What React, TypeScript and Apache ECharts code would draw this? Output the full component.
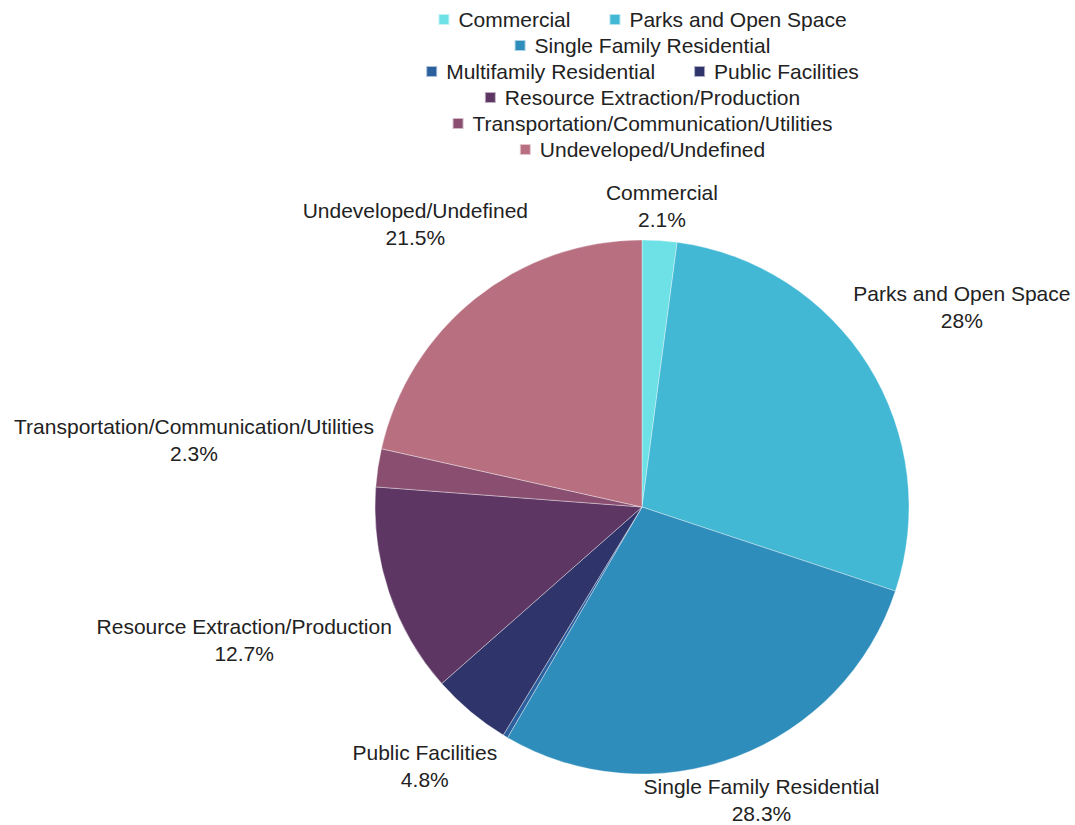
import React, { useEffect, useRef } from "react";
import * as echarts from "echarts";

const categories = [
  "Commercial",
  "Parks and Open Space",
  "Single Family Residential",
  "Multifamily Residential",
  "Public Facilities",
  "Resource Extraction/Production",
  "Transportation/Communication/Utilities",
  "Undeveloped/Undefined",
];
const values = [2.1, 28, 28.3, 0.3, 4.8, 12.7, 2.3, 21.5];
const colors = [
  "#6de1e6",
  "#42b8d5",
  "#2e8dbb",
  "#2c5f9e",
  "#2f356b",
  "#5d3663",
  "#8a4f70",
  "#b87081",
];
const legendRows = [[0, 1], [2], [3, 4], [5], [6], [7]];
const hiddenLabels = [3];

const W = 1075;
const H = 825;
const CX = 642;
const CY = 507;
const R = 267;
const FONT = "Liberation Sans, Arial, sans-serif";

export default function App() {
  const ref = useRef<HTMLDivElement>(null);
  useEffect(() => {
    document.body.style.margin = "0";
    if (!ref.current) return;
    const chart = echarts.init(ref.current, null, { renderer: "svg" });
    const total = values.reduce((a, b) => a + b, 0);
    const cum: number[] = [];
    let acc = 0;
    values.forEach((v) => {
      cum.push(acc);
      acc += v;
    });

    const legends = legendRows.map((row, r) => ({
      data: row.map((i) => categories[i]),
      top: 4 + r * 26,
      left: "center",
      orient: "horizontal",
      icon: "rect",
      itemWidth: 11,
      itemHeight: 11,
      itemGap: 38,
      selectedMode: false,
      textStyle: { color: "#222", fontSize: 21, fontFamily: FONT, padding: [0, 0, 0, 4] },
    }));

    chart.setOption({
      animation: false,
      backgroundColor: "#fff",
      legend: legends,
      series: [
        {
          type: "pie",
          center: [CX, CY],
          radius: R,
          startAngle: 90,
          clockwise: true,
          avoidLabelOverlap: false,
          itemStyle: { borderColor: "rgba(255,255,255,0.6)", borderWidth: 0.6 },
          label: {
            show: true,
            position: "outside",
            color: "#222",
            fontSize: 21,
            lineHeight: 27,
            fontFamily: FONT,
            formatter: (p: any) => `${p.name}\n${p.value}%`,
          },
          labelLine: { show: false },
          labelLayout: (p: any) => {
            const i = p.dataIndex;
            const mid = ((cum[i] + values[i] / 2) / total) * Math.PI * 2;
            const ux = Math.sin(mid);
            const uy = -Math.cos(mid);
            const w = p.labelRect.width;
            const h = p.labelRect.height;
            const ext = Math.abs(ux) * (w / 2) + Math.abs(uy) * (h / 2);
            const d = R + 4 + ext;
            const x = CX + ux * d;
            let y = CY + uy * d;
            y = Math.min(y, H - h / 2 + 2);
            return { x, y, align: "center", verticalAlign: "middle" };
          },
          data: categories.map((name, i) => ({
            name,
            value: values[i],
            itemStyle: { color: colors[i] },
            label: hiddenLabels.includes(i) ? { show: false } : undefined,
          })),
        },
      ],
    });
    return () => chart.dispose();
  }, []);
  return (
    <div style={{ width: W, height: H, overflow: "hidden", position: "relative" }}>
      <div ref={ref} style={{ width: CX * 2, height: H }} />
    </div>
  );
}
